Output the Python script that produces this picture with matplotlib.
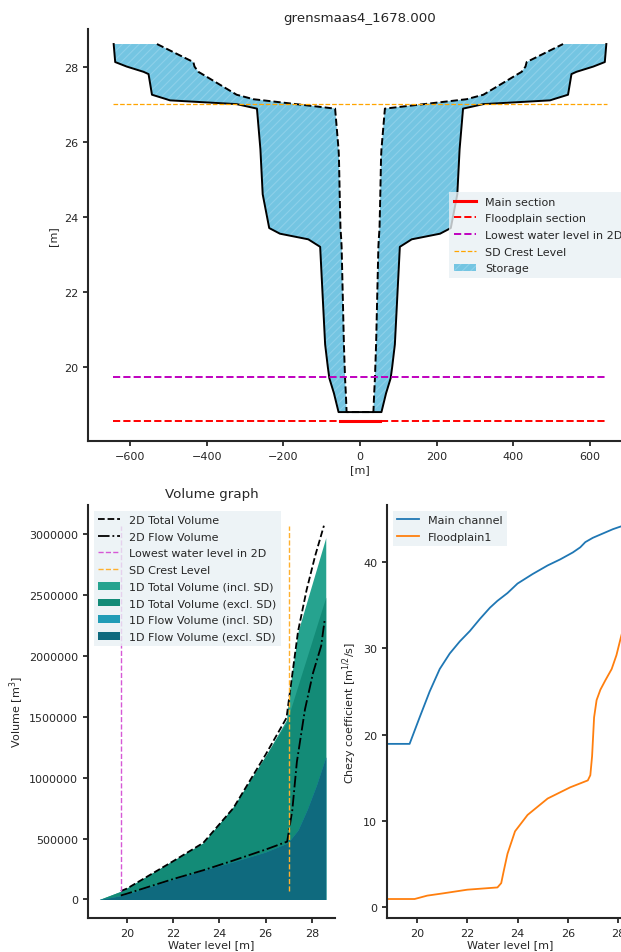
import numpy as np
import matplotlib
matplotlib.use("Agg")
import matplotlib.pyplot as plt
from matplotlib.lines import Line2D
from matplotlib.patches import Patch

# ---------------- data ----------------
title_top = "grensmaas4_1678.000"

# cross-section table (levels, half widths)
z_levels = [18.8, 19.3, 19.7, 20.0, 20.6, 23.2, 23.4, 23.55, 23.7, 24.6, 25.6, 25.8,
            26.88, 27.0, 27.1, 27.13, 27.25, 27.8, 27.86, 28.0, 28.12, 28.6]
total_half = [56, 68, 80, 84, 91, 104, 135, 209, 237, 254, 259, 260,
              269, 322, 496, 505, 543, 552, 565, 609, 639, 643]
flow_half = [35, 37, 39, 40, 42, 48, 49, 50, 51, 53, 55, 56,
             65, 167, 252, 278, 322, 412, 422, 432, 435, 530]
main_section_level = 18.55
main_section_half = 53
lowest_2d_level = 19.73
sd_crest_level = 27.0
hline_extent = 645

# volume graph
wl_1d = [18.8, 19.7, 20.0, 22.0, 23.3, 24.6, 26.0, 26.9, 27.0, 27.4, 27.8, 28.2, 28.6]
vol_total_incl = [0, 65e3, 95e3, 320e3, 465e3, 760e3, 1180e3, 1475e3, 1680e3, 2200e3, 2457e3, 2713e3, 2970e3]
vol_total_excl = [0, 65e3, 95e3, 320e3, 465e3, 760e3, 1180e3, 1455e3, 1515e3, 1757e3, 1998e3, 2240e3, 2481e3]
vol_flow_incl = [0, 30e3, 45e3, 165e3, 240e3, 310e3, 390e3, 460e3, 475e3, 570e3, 740e3, 940e3, 1170e3]
vol_flow_excl = [0, 30e3, 45e3, 165e3, 240e3, 310e3, 390e3, 460e3, 475e3, 570e3, 740e3, 940e3, 1170e3]

wl_2d = [19.73, 20.0, 22.0, 23.3, 24.6, 26.0, 26.9, 27.4, 27.77, 28.14, 28.52]
vol_2d_total = [69e3, 90e3, 315e3, 465e3, 750e3, 1190e3, 1490e3, 2200e3, 2540e3, 2820e3, 3068e3]
wl_2d_flow = [19.73, 20.0, 22.0, 23.3, 24.6, 26.0, 26.93, 27.15, 27.35, 27.7, 28.05, 28.4, 28.55]
vol_2d_flow = [33e3, 48e3, 168e3, 240e3, 320e3, 410e3, 475e3, 730e3, 1130e3, 1560e3, 1860e3, 2080e3, 2290e3]

# chezy
wl_chezy = [18.8, 19.7, 20.1, 20.5, 20.9, 21.3, 21.7, 22.1, 22.5, 22.9, 23.2, 23.6, 24.0,
            24.6, 25.2, 25.7, 26.2, 26.5, 26.7, 27.0, 27.4, 27.8, 28.1, 28.6]
chezy_main = [18.93, 18.93, 22.0, 25.0, 27.6, 29.4, 30.8, 32.0, 33.4, 34.7, 35.5, 36.4, 37.5,
              38.6, 39.6, 40.3, 41.1, 41.7, 42.3, 42.8, 43.3, 43.8, 44.1, 44.5]
wl_fp = [18.8, 19.9, 20.4, 21.0, 22.0, 23.2, 23.35, 23.45, 23.6, 23.9, 24.4, 25.2, 26.1,
         26.8, 26.9, 26.97, 27.05, 27.15, 27.3, 27.5, 27.75, 27.94, 28.12, 28.35, 28.6]
chezy_fp = [0.96, 0.96, 1.35, 1.6, 2.04, 2.3, 2.8, 4.2, 6.2, 8.8, 10.7, 12.6, 13.9,
            14.7, 15.3, 17.5, 22.0, 24.0, 25.2, 26.3, 27.6, 29.2, 31.3, 33.8, 36.0]

# ---------------- style ----------------
plt.rcParams['font.family'] = ['DejaVu Sans']
plt.rcParams['font.size'] = 8.0
dark = '#262626'
plt.rcParams['text.color'] = dark
plt.rcParams['axes.labelcolor'] = dark
plt.rcParams['xtick.color'] = dark
plt.rcParams['ytick.color'] = dark
plt.rcParams['axes.edgecolor'] = dark
plt.rcParams['axes.linewidth'] = 1.5
plt.rcParams['xtick.major.width'] = 1.3
plt.rcParams['ytick.major.width'] = 1.3
plt.rcParams['xtick.major.size'] = 3.5
plt.rcParams['ytick.major.size'] = 3.5
plt.rcParams['hatch.linewidth'] = 0.8
plt.rcParams['axes.titlesize'] = 9.6

W, H = 621, 953
fig = plt.figure(figsize=(W / 100, H / 100), dpi=100)

def box(l, t, r, b):
    return [l / W, 1 - b / H, (r - l) / W, (b - t) / H]

ax1 = fig.add_axes(box(88, 30, 632, 442))
ax2 = fig.add_axes(box(88, 506, 335, 919))
ax3 = fig.add_axes(box(387, 506, 633, 919))

for ax in (ax1, ax2, ax3):
    ax.spines['top'].set_visible(False)
    ax.spines['right'].set_visible(False)

leg_kw = dict(fancybox=False, facecolor='#e9f0f4', edgecolor='none', framealpha=0.8,
              labelspacing=0.6)

# ---------------- top: cross-section ----------------
z = np.array(z_levels)
T = np.array(total_half, dtype=float)
F = np.array(flow_half, dtype=float)
fill_col = '#74c5e2'
hatch_col = '#8dd0ea'
for a, b in ((-T, -F), (F, T)):
    ax1.fill_betweenx(z, a, b, facecolor=fill_col, edgecolor=hatch_col, hatch='////', linewidth=0)
ax1.plot(np.concatenate([-T[::-1], T]), np.concatenate([z[::-1], z]), '-', color='k', lw=1.4)
ax1.plot(np.concatenate([-F[::-1], F]), np.concatenate([z[::-1], z]), '--', color='k', lw=1.4)
ax1.plot([-hline_extent, hline_extent], [main_section_level] * 2, '--', color='red', lw=1.4)
ax1.plot([-main_section_half, main_section_half], [main_section_level] * 2, '-', color='red', lw=2.2)
ax1.plot([-hline_extent, hline_extent], [lowest_2d_level] * 2, '--', color='m', lw=1.4)
ax1.plot([-hline_extent, hline_extent], [sd_crest_level] * 2, '--', color='orange', lw=0.9)
ax1.set_xlim(-710, 710)
ax1.set_ylim(18.03, 29.0)
ax1.set_xticks([-600, -400, -200, 0, 200, 400, 600])
ax1.set_yticks([20, 22, 24, 26, 28])
ax1.set_xlabel('[m]', labelpad=2.5)
ax1.set_ylabel('[m]')
ax1.set_title(title_top)
handles1 = [Line2D([], [], color='red', lw=2.2),
            Line2D([], [], color='red', lw=1.4, ls='--'),
            Line2D([], [], color='m', lw=1.4, ls='--'),
            Line2D([], [], color='orange', lw=0.9, ls='--'),
            Patch(facecolor=fill_col, edgecolor=hatch_col, hatch='////', linewidth=0)]
labels1 = ['Main section', 'Floodplain section', 'Lowest water level in 2D', 'SD Crest Level', 'Storage']
ax1.legend(handles1, labels1, loc='center right', **leg_kw)

# ---------------- bottom left: volume ----------------
c_ti = '#26a38f'
c_te = '#138b77'
c_fi = '#219cb6'
c_fe = '#0f6a7e'
ax2.fill_between(wl_1d, 0, vol_total_incl, color=c_ti, lw=0, label='1D Total Volume (incl. SD)')
ax2.fill_between(wl_1d, 0, vol_total_excl, color=c_te, lw=0, label='1D Total Volume (excl. SD)')
ax2.fill_between(wl_1d, 0, vol_flow_incl, color=c_fi, lw=0, label='1D Flow Volume (incl. SD)')
ax2.fill_between(wl_1d, 0, vol_flow_excl, color=c_fe, lw=0, label='1D Flow Volume (excl. SD)')
ax2.plot(wl_2d, vol_2d_total, '--', color='k', lw=1.3, label='2D Total Volume')
ax2.plot(wl_2d_flow, vol_2d_flow, '-.', color='k', lw=1.3, label='2D Flow Volume')
vmin, vmax = min(vol_2d_total), max(vol_2d_total)
ax2.vlines(lowest_2d_level, vmin, vmax, color='#d658d6', linestyles='--', lw=1.0,
           label='Lowest water level in 2D')
ax2.vlines(sd_crest_level, vmin, vmax, color='#ffb02e', linestyles='--', lw=1.0,
           label='SD Crest Level')
ax2.set_xlim(18.31, 29.0)
ax2.set_ylim(-152000, 3238000)
ax2.set_xticks([20, 22, 24, 26, 28])
ax2.set_yticks([0, 500000, 1000000, 1500000, 2000000, 2500000, 3000000])
ax2.ticklabel_format(axis='y', style='plain')
ax2.set_xlabel('Water level [m]', labelpad=1)
ax2.set_ylabel('Volume [m$^3$]', labelpad=2.5)
ax2.set_title('Volume graph')
h, l = ax2.get_legend_handles_labels()
order = ['2D Total Volume', '2D Flow Volume', 'Lowest water level in 2D', 'SD Crest Level',
         '1D Total Volume (incl. SD)', '1D Total Volume (excl. SD)',
         '1D Flow Volume (incl. SD)', '1D Flow Volume (excl. SD)']
hd = dict(zip(l, h))
ax2.legend([hd[k] for k in order], order, loc='upper left', **leg_kw)

# ---------------- bottom right: chezy ----------------
ax3.plot(wl_chezy, chezy_main, color='#1f77b4', lw=1.3, label='Main channel')
ax3.plot(wl_fp, chezy_fp, color='#ff7f0e', lw=1.3, label='Floodplain1')
ax3.set_xlim(18.8, 28.6)
ax3.set_ylim(-1.24, 46.6)
ax3.set_xticks([20, 22, 24, 26, 28])
ax3.set_yticks([0, 10, 20, 30, 40])
ax3.set_xlabel('Water level [m]', labelpad=1)
ax3.set_ylabel('Chezy coefficient [m$^{1/2}$/s]', labelpad=3)
ax3.legend(loc='upper left', **leg_kw)

fig.savefig('out.png', dpi=100)
